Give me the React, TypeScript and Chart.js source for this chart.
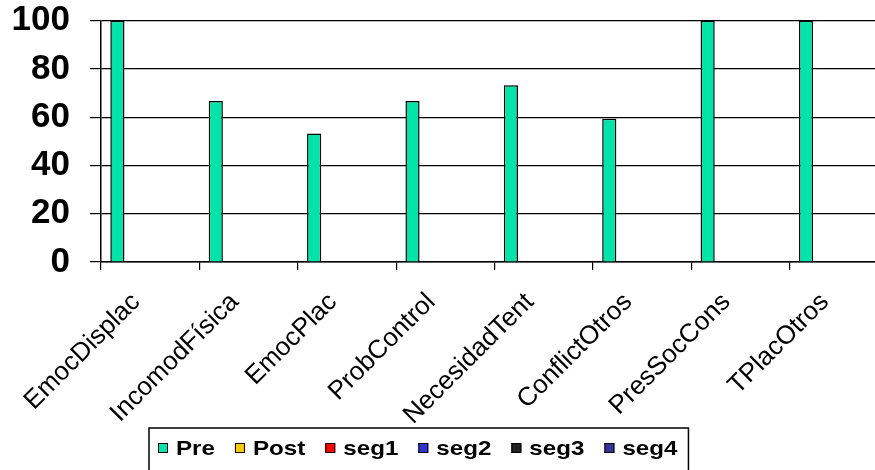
import React, { useEffect, useRef } from "react";
import { Chart, registerables } from "chart.js";

Chart.register(...registerables);

const categories = [
  "EmocDisplac",
  "IncomodFísica",
  "EmocPlac",
  "ProbControl",
  "NecesidadTent",
  "ConflictOtros",
  "PresSocCons",
  "TPlacOtros",
];

const preValues = [100, 66.7, 53.3, 66.7, 73.3, 59.4, 100, 100];
const postValues: (number | null)[] = [null, null, null, null, null, null, null, null];
const seg1Values: (number | null)[] = [null, null, null, null, null, null, null, null];
const seg2Values: (number | null)[] = [null, null, null, null, null, null, null, null];
const seg3Values: (number | null)[] = [null, null, null, null, null, null, null, null];
const seg4Values: (number | null)[] = [null, null, null, null, null, null, null, null];

const seriesNames = ["Pre", "Post", "seg1", "seg2", "seg3", "seg4"];
const seriesColors = ["#00E4AA", "#FFCC00", "#FF0000", "#3333CC", "#222222", "#333399"];
const yTickValues = [0, 20, 40, 60, 80, 100];

const FONT = '"Liberation Sans", Arial, sans-serif';

const boxLegend = {
  id: "boxLegend",
  afterDraw(chart: any) {
    const ctx = chart.ctx as CanvasRenderingContext2D;
    ctx.save();
    ctx.font = `bold 21px ${FONT}`;
    const sx = 1.15;
    const sq = 10;
    const g1 = 8;
    const g2 = 20;
    const cy = 448;
    let x = 158;
    const startX = x;
    chart.data.datasets.forEach((ds: any) => {
      ctx.fillStyle = ds.backgroundColor;
      ctx.fillRect(x, cy - sq / 2, sq, sq);
      ctx.strokeStyle = "#000";
      ctx.lineWidth = 1;
      ctx.strokeRect(x + 0.5, cy - sq / 2 + 0.5, sq - 1, sq - 1);
      x += sq + g1;
      const w = ctx.measureText(ds.label).width * sx;
      ctx.save();
      ctx.translate(x, cy);
      ctx.scale(sx, 1);
      ctx.fillStyle = "#000";
      ctx.textBaseline = "middle";
      ctx.textAlign = "left";
      ctx.fillText(ds.label, 0, 1);
      ctx.restore();
      x += w + g2;
    });
    const left = startX - 9;
    const right = x - g2 + 11;
    ctx.strokeStyle = "#000";
    ctx.lineWidth = 1.5;
    ctx.strokeRect(left, 428, right - left, 80);
    ctx.restore();
  },
};

export default function App() {
  const ref = useRef<HTMLCanvasElement | null>(null);
  useEffect(() => {
    if (!ref.current) return;
    const allValues = [preValues, postValues, seg1Values, seg2Values, seg3Values, seg4Values];
    const chart = new Chart(ref.current, {
      type: "bar",
      data: {
        labels: categories,
        datasets: seriesNames.map((name, i) => ({
          label: name,
          data: allValues[i] as any,
          backgroundColor: seriesColors[i],
          borderColor: "#000",
          borderWidth: 1.5,
          categoryPercentage: 0.8,
          barPercentage: 1.08,
        })),
      },
      options: {
        responsive: false,
        animation: false,
        layout: { padding: { left: 8, right: 2, top: 0, bottom: 0 } },
        plugins: {
          legend: { display: false },
          tooltip: { enabled: false },
        },
        scales: {
          x: {
            grid: {
              offset: true,
              drawOnChartArea: false,
              drawTicks: true,
              tickLength: 8,
              color: "#000",
              lineWidth: 1.2,
            },
            border: { display: true, color: "#000", width: 1.5 },
            ticks: {
              autoSkip: false,
              minRotation: 45,
              maxRotation: 45,
              padding: 17,
              labelOffset: -14,
              color: "#000",
              font: { family: FONT, size: 26 },
            },
            afterFit: (s: any) => {
              s.height = 208;
            },
          },
          y: {
            min: 0,
            max: 100,
            afterBuildTicks: (s: any) => {
              s.ticks = yTickValues.map((v) => ({ value: v }));
            },
            grid: {
              color: "#000",
              lineWidth: 1.2,
              drawTicks: true,
              tickLength: 11,
            },
            border: { display: true, color: "#000", width: 1.5 },
            ticks: {
              padding: 20,
              color: "#000",
              font: { family: FONT, size: 35, weight: "bold", lineHeight: 0.04 },
            },
            afterFit: (s: any) => {
              s.width = 93;
            },
          },
        },
      },
      plugins: [boxLegend],
    });
    return () => chart.destroy();
  }, []);
  return (
    <div
      style={{
        position: "absolute",
        left: 0,
        top: 0,
        width: 875,
        height: 470,
        overflow: "hidden",
        background: "#fff",
      }}
    >
      <canvas ref={ref} width={890} height={470} style={{ display: "block" }} />
    </div>
  );
}
